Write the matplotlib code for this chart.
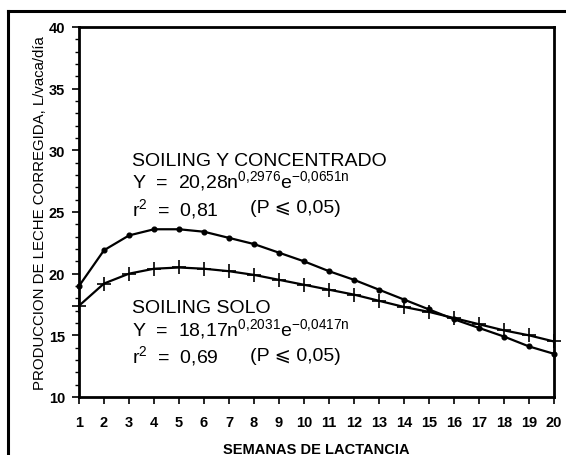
import matplotlib

matplotlib.use("Agg")
import matplotlib.pyplot as plt
from matplotlib.ticker import MultipleLocator
from matplotlib.lines import Line2D

plt.rcParams["font.family"] = ["Liberation Sans", "DejaVu Sans"]
plt.rcParams["mathtext.fontset"] = "custom"
plt.rcParams["mathtext.rm"] = "Liberation Sans"
plt.rcParams["mathtext.it"] = "Liberation Sans"

# ---- data -----------------------------------------------------------------
semanas = list(range(1, 21))
soiling_conc = [19.0, 21.9, 23.1, 23.6, 23.6, 23.4, 22.9, 22.4, 21.7, 21.0,
                20.2, 19.5, 18.7, 17.9, 17.1, 16.3, 15.6, 14.9, 14.1, 13.5]
soiling_solo = [17.4, 19.2, 20.0, 20.4, 20.5, 20.4, 20.2, 19.9, 19.5, 19.1,
                18.7, 18.3, 17.8, 17.3, 16.9, 16.4, 15.9, 15.4, 15.0, 14.5]
yticks = [10, 15, 20, 25, 30, 35, 40]

fig = plt.figure(figsize=(5.66, 4.56), dpi=100, facecolor="white")
ax = fig.add_axes([0.1396, 0.1272, 0.8392, 0.8114])

ax.plot(semanas, soiling_conc, color="black", lw=1.6, marker="o", ms=3.4,
        clip_on=False, zorder=3)
ax.plot(semanas, soiling_solo, color="black", lw=1.6, marker="+", ms=10,
        mew=1.2, clip_on=False, zorder=3)

ax.set_xlim(1, 20)
ax.set_ylim(10, 40)
ax.set_xticks(semanas)
ax.set_yticks(yticks)
ax.yaxis.set_minor_locator(MultipleLocator(1))
for s in ax.spines.values():
    s.set_linewidth(2.0)
ax.tick_params(axis="both", which="major", direction="out", length=5,
               width=1.2, labelsize=10.5)
ax.tick_params(axis="x", which="major", pad=8)
ax.tick_params(axis="y", which="major", pad=5)
ax.tick_params(axis="y", which="minor", direction="out", length=3, width=1.0)
for lab in ax.get_xticklabels() + ax.get_yticklabels():
    lab.set_fontweight("bold")

ax.set_xlabel("SEMANAS DE LACTANCIA", fontsize=10.5, fontweight="bold",
              labelpad=9)
ax.set_ylabel("PRODUCCION DE LECHE CORREGIDA, L/vaca/día", fontsize=10.8,
              labelpad=1)

# annotations
tx, tp = 0.1116, 0.36
kw = dict(transform=ax.transAxes, ha="left", va="center", fontsize=14)
ax.text(tx, 0.638, "SOILING Y CONCENTRADO", **kw)
ax.text(tx, 0.586, r"Y  =  20,28n$^{0{,}2976}$e$^{-0{,}0651n}$", **kw)
ax.text(tx, 0.511, "r$^{2}$  =  0,81", **kw)
ax.text(tp, 0.511, "(P ⩽ 0,05)", **kw)
ax.text(tx, 0.243, "SOILING SOLO", **kw)
ax.text(tx, 0.186, r"Y  =  18,17n$^{0{,}2031}$e$^{-0{,}0417n}$", **kw)
ax.text(tx, 0.1135, "r$^{2}$  =  0,69", **kw)
ax.text(tp, 0.1135, "(P ⩽ 0,05)", **kw)

# outer frame of the figure panel
fig.add_artist(Line2D([8 / 566, 8 / 566], [0, 1 - 12 / 456],
                      transform=fig.transFigure, color="black", lw=2.2))
fig.add_artist(Line2D([8 / 566, 1], [1 - 12 / 456, 1 - 12 / 456],
                      transform=fig.transFigure, color="black", lw=2.2))

fig.savefig("out.png", dpi=100)
